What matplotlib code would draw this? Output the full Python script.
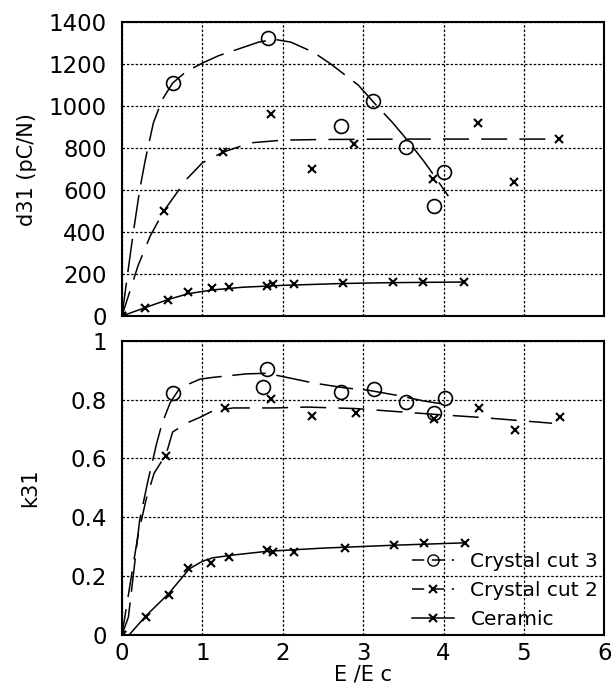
from matplotlib import pyplot as plt
from matplotlib.lines import Line2D
from matplotlib.legend_handler import HandlerLine2D

# d31 (pC/N) measured points
cut3_d31_x = [0.63, 1.82, 2.72, 3.12, 3.53, 3.88, 4.01]
cut3_d31_y = [1110, 1324, 905, 1024, 805, 524, 686]
cut2_d31_x = [0.0, 0.52, 1.26, 1.85, 2.37, 2.89, 3.87, 4.43, 4.88, 5.44]
cut2_d31_y = [0, 500, 781, 962, 700, 819, 652, 919, 638, 843]
cer_d31_x = [0.0, 0.29, 0.57, 0.82, 1.12, 1.33, 1.80, 1.88, 2.14, 2.75, 3.37, 3.75, 4.26]
cer_d31_y = [0, 38, 76, 114, 133, 138, 143, 152, 152, 157, 162, 162, 162]

# d31 fitted curves
fit3_d31_x = [0.0, 0.07, 0.14, 0.22, 0.29, 0.39, 0.5, 0.63, 0.8, 1.0, 1.2, 1.47, 1.7, 1.9, 2.1, 2.38, 2.6, 2.94, 3.15, 3.36, 3.55, 3.75, 3.9, 4.06]
fit3_d31_y = [0, 200, 395, 600, 743, 919, 1030, 1110, 1165, 1205, 1240, 1275, 1305, 1318, 1305, 1257, 1200, 1100, 1010, 924, 838, 740, 660, 571]
fit2_d31_x = [0.0, 0.1, 0.2, 0.35, 0.52, 0.8, 1.0, 1.26, 1.6, 2.0, 2.5, 3.5, 4.5, 5.44]
fit2_d31_y = [0, 120, 240, 380, 500, 650, 730, 781, 825, 838, 841, 843, 843, 843]
fitc_d31_x = [0.0, 0.29, 0.57, 0.82, 1.12, 1.5, 2.0, 2.75, 3.37, 4.26]
fitc_d31_y = [0, 40, 78, 106, 124, 137, 146, 155, 159, 162]

# k31 measured points
cut3_k31_x = [0.64, 1.75, 1.81, 2.73, 3.13, 3.53, 3.88, 4.02]
cut3_k31_y = [0.824, 0.844, 0.905, 0.827, 0.836, 0.792, 0.755, 0.806]
cut2_k31_x = [0.0, 0.55, 1.28, 1.85, 2.37, 2.91, 3.88, 4.44, 4.89, 5.45]
cut2_k31_y = [0, 0.609, 0.772, 0.803, 0.745, 0.755, 0.735, 0.772, 0.697, 0.742]
cer_k31_x = [0.0, 0.30, 0.58, 0.82, 1.11, 1.33, 1.81, 1.88, 2.14, 2.77, 3.38, 3.76, 4.27]
cer_k31_y = [0, 0.061, 0.136, 0.228, 0.245, 0.265, 0.289, 0.283, 0.283, 0.297, 0.306, 0.313, 0.313]

# k31 fitted curves
fit3_k31_x = [0.0, 0.08, 0.14, 0.22, 0.32, 0.43, 0.5, 0.6, 0.72, 0.97, 1.13, 1.55, 1.8, 2.05, 2.38, 2.78, 3.05, 3.46, 3.75, 4.0]
fit3_k31_y = [0, 0.06, 0.2, 0.39, 0.52, 0.65, 0.72, 0.79, 0.84, 0.87, 0.876, 0.888, 0.89, 0.876, 0.857, 0.84, 0.833, 0.813, 0.796, 0.785]
fit2_k31_x = [0.0, 0.1, 0.2, 0.3, 0.4, 0.55, 0.63, 0.8, 0.97, 1.13, 1.38, 1.9, 2.3, 2.9, 3.5, 3.9, 4.45, 4.9, 5.35]
fit2_k31_y = [0, 0.17, 0.34, 0.46, 0.55, 0.615, 0.69, 0.72, 0.74, 0.762, 0.772, 0.772, 0.775, 0.77, 0.758, 0.75, 0.74, 0.73, 0.72]
fitc_k31_x = [0.0, 0.09, 0.3, 0.58, 0.84, 1.0, 1.13, 1.4, 1.8, 2.5, 3.4, 4.27]
fitc_k31_y = [0, 0.0, 0.065, 0.14, 0.225, 0.25, 0.262, 0.272, 0.284, 0.295, 0.305, 0.313]

legend_labels = ['Crystal cut 3', 'Crystal cut 2', 'Ceramic']


class RightMarker(HandlerLine2D):
    # put the legend marker near the right end of the handle line
    def get_xdata(self, legend, xdescent, ydescent, width, height, fontsize):
        xdata, _ = super().get_xdata(legend, xdescent, ydescent, width, height, fontsize)
        return xdata, [xdata[0] + 0.88 * (xdata[-1] - xdata[0])]


tick_fs = 16.5
label_fs = 15
leg_fs = 14.5

fig = plt.figure(figsize=(6.16, 6.93), dpi=100)
ax1 = fig.add_axes([0.198, 0.544, 0.783, 0.424])
ax2 = fig.add_axes([0.198, 0.084, 0.783, 0.424])

dash3 = (22, 7)
dash2 = (17, 8)
lw = 1.1
mk = dict(color='black', linestyle='none')

# top panel
ax1.plot(fit3_d31_x, fit3_d31_y, color='black', lw=lw, dashes=dash3)
ax1.plot(fit2_d31_x, fit2_d31_y, color='black', lw=lw, dashes=dash2)
ax1.plot(fitc_d31_x, fitc_d31_y, color='black', lw=lw)
ax1.plot(cut3_d31_x, cut3_d31_y, marker='o', ms=10, mfc='none', mew=1.2, **mk)
ax1.plot(cut2_d31_x, cut2_d31_y, marker='x', ms=6, mew=1.5, **mk)
ax1.plot(cer_d31_x, cer_d31_y, marker='x', ms=6, mew=1.5, **mk)
ax1.set_xlim(0, 6)
ax1.set_ylim(0, 1400)
ax1.set_yticks(range(0, 1401, 200))
ax1.set_xticks(range(0, 7))
ax1.set_xticklabels([])
ax1.set_ylabel('d31 (pC/N)', fontsize=label_fs, labelpad=8)

# bottom panel
ax2.plot(fit3_k31_x, fit3_k31_y, color='black', lw=lw, dashes=dash3)
ax2.plot(fit2_k31_x, fit2_k31_y, color='black', lw=lw, dashes=dash2)
ax2.plot(fitc_k31_x, fitc_k31_y, color='black', lw=lw)
ax2.plot(cut3_k31_x, cut3_k31_y, marker='o', ms=10, mfc='none', mew=1.2, **mk)
ax2.plot(cut2_k31_x, cut2_k31_y, marker='x', ms=6, mew=1.5, **mk)
ax2.plot(cer_k31_x, cer_k31_y, marker='x', ms=6, mew=1.5, **mk)
ax2.set_xlim(0, 6)
ax2.set_ylim(0, 1)
ax2.set_yticks([0, 0.2, 0.4, 0.6, 0.8, 1])
ax2.set_yticklabels(['0', '0.2', '0.4', '0.6', '0.8', '1'])
ax2.set_xticks(range(0, 7))
ax2.set_xlabel('E /E c', fontsize=label_fs, labelpad=0)
ax2.set_ylabel('k31', fontsize=label_fs, labelpad=22)

for ax in (ax1, ax2):
    ax.grid(True, color='black', linestyle=(0, (2, 1.5)), linewidth=0.9)
    ax.tick_params(length=0, labelsize=tick_fs)
    ax.tick_params(axis='y', pad=11)
    ax.tick_params(axis='x', pad=5)
    for s in ax.spines.values():
        s.set_linewidth(1.5)

handles = [
    Line2D([], [], color='black', lw=lw, dashes=(8, 5), marker='o', ms=8, mfc='none'),
    Line2D([], [], color='black', lw=lw, dashes=(8, 5), marker='x', ms=6, mew=1.5),
    Line2D([], [], color='black', lw=lw, marker='x', ms=6, mew=1.5),
]
ax2.legend(handles, legend_labels, loc='lower right',
           frameon=False, fontsize=leg_fs, handlelength=2.1, handletextpad=0.8,
           labelspacing=0.5, borderaxespad=0.1, borderpad=0.2,
           handler_map={Line2D: RightMarker()})

plt.savefig('out.png', dpi=100)
